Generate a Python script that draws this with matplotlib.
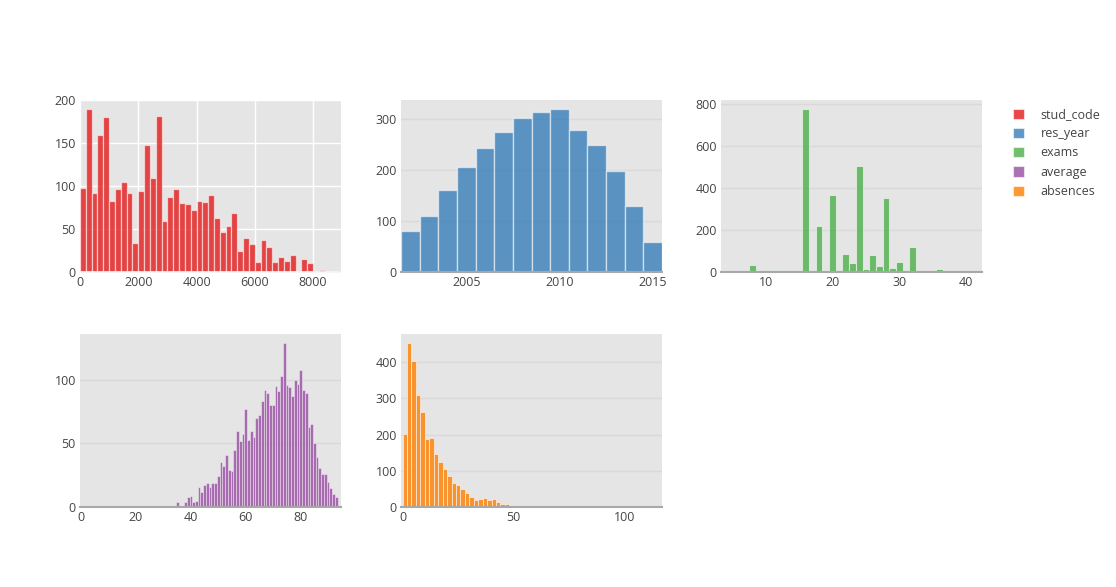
import numpy as np
import matplotlib
matplotlib.use("Agg")
import matplotlib.pyplot as plt
from matplotlib.patches import Patch
from matplotlib.colors import to_rgba

plt.rcParams['font.family'] = ['Open Sans', 'DejaVu Sans']

# ---------------- data ----------------
stud_code_counts = [98, 190, 92, 159, 180, 83, 96, 105, 92, 34, 94, 148, 109, 181, 59,
                    87, 96, 80, 79, 72, 83, 81, 89, 63, 47, 54, 69, 25, 39, 32, 12, 37,
                    29, 12, 17, 13, 20, 1, 15, 11, 1, 2, 0, 0, 1]
stud_code_bin = 200

res_years = [2002, 2003, 2004, 2005, 2006, 2007, 2008, 2009, 2010, 2011, 2012, 2013, 2014, 2015]
res_year_counts = [80, 111, 162, 207, 243, 275, 303, 314, 320, 280, 249, 199, 130, 58]

exam_values = list(range(4, 42))
exam_counts = [0, 1, 0, 0, 32, 0, 2, 0, 11, 6, 6, 6, 775, 3, 217, 0, 368, 8, 87, 41,
               505, 16, 79, 30, 350, 21, 49, 8, 120, 0, 7, 3, 16, 6, 1, 0, 0, 2]

average_values = list(range(0, 94))
average_counts = [1, 0, 0, 0, 0, 0, 0, 0, 0, 0, 0, 0, 0, 0, 0, 0, 0, 0, 0, 1,
                  0, 0, 0, 0, 0, 1, 0, 0, 0, 0, 0, 0, 1, 1, 1, 4, 1, 0, 4, 8,
                  9, 4, 5, 16, 12, 17, 19, 16, 19, 19, 24, 35, 32, 41, 29, 28, 45, 60, 52, 57,
                  77, 53, 60, 55, 70, 72, 83, 92, 90, 80, 80, 95, 91, 103, 129, 96, 94, 87, 100, 97,
                  108, 92, 90, 63, 65, 50, 39, 31, 26, 26, 20, 15, 10, 8]

absences_counts = [203, 453, 404, 310, 263, 187, 191, 146, 124, 104, 85, 65, 62, 51, 39,
                   28, 19, 21, 24, 19, 21, 14, 8, 8, 1, 2, 0, 2, 0, 3, 0, 0, 0, 1, 0,
                   1, 0, 0, 1, 0, 1, 0, 1, 0, 0, 1, 0, 0, 1, 0, 0, 0, 1, 0, 1, 0, 0, 0, 1]
absences_bin = 2

names = ['stud_code', 'res_year', 'exams', 'average', 'absences']
colors = ['#E41A1C', '#377EB8', '#4DAF4A', '#984EA3', '#FF7F00']

# ---------------- figure ----------------
W, H = 1116, 587
fig = plt.figure(figsize=(W / 100, H / 100), dpi=100)
fig.patch.set_facecolor('white')

def make_ax(x0, y0, x1, y1):
    return fig.add_axes([x0 / W, 1 - y1 / H, (x1 - x0) / W, (y1 - y0) / H])

ax1 = make_ax(80, 100, 341, 272)
ax2 = make_ax(401, 100, 662, 272)
ax3 = make_ax(721, 100, 982, 272)
ax4 = make_ax(80, 334, 341, 507)
ax5 = make_ax(401, 334, 662, 507)

BG = '#E5E5E5'

def style(ax, grid_color, zero_color, zero_lw, xgrid=False):
    ax.set_facecolor(BG)
    for s in ax.spines.values():
        s.set_visible(False)
    ax.spines['bottom'].set_visible(True)
    ax.spines['bottom'].set_color(zero_color)
    ax.spines['bottom'].set_linewidth(zero_lw)
    ax.spines['bottom'].set_zorder(5)
    ax.set_axisbelow(True)
    ax.grid(axis='y', color=grid_color, linewidth=1)
    if xgrid:
        ax.grid(axis='x', color=grid_color, linewidth=1)
    ax.tick_params(axis='both', length=0, labelsize=9, labelcolor='#444444', pad=3)

def draw(ax, centers, counts, width, color, lw):
    fc = to_rgba(color, 0.8)
    ec = (1, 1, 1, 0.55)
    ax.bar(centers, counts, width=width, color=fc, edgecolor=ec, linewidth=lw, zorder=3)

# stud_code
edges = np.arange(len(stud_code_counts)) * stud_code_bin
draw(ax1, edges + stud_code_bin / 2, stud_code_counts, stud_code_bin, colors[0], 0.9)
style(ax1, 'white', '#f5f5f5', 1.2, xgrid=True)
ax1.set_xlim(0, 8960)
ax1.set_ylim(0, 200)
ax1.set_xticks([0, 2000, 4000, 6000, 8000])
ax1.set_yticks([0, 50, 100, 150, 200])

# res_year
draw(ax2, res_years, res_year_counts, 1, colors[1], 1.0)
style(ax2, '#D9D9D9', '#A8A8A8', 1.5)
ax2.set_xlim(2001.5, 2015.5)
ax2.set_ylim(0, 338)
ax2.set_xticks([2005, 2010, 2015])
ax2.set_yticks([0, 100, 200, 300])

# exams
draw(ax3, exam_values, exam_counts, 1, colors[2], 0.8)
style(ax3, '#D9D9D9', '#A8A8A8', 1.5)
ax3.set_xlim(3.3, 42.4)
ax3.set_ylim(0, 818)
ax3.set_xticks([10, 20, 30, 40])
ax3.set_yticks([0, 200, 400, 600, 800])

# average
draw(ax4, average_values, average_counts, 1, colors[3], 0.5)
style(ax4, '#D9D9D9', '#A8A8A8', 1.5)
ax4.set_xlim(-0.4, 94.7)
ax4.set_ylim(0, 136)
ax4.set_xticks([0, 20, 40, 60, 80])
ax4.set_yticks([0, 50, 100])

# absences
aedges = np.arange(len(absences_counts)) * absences_bin
draw(ax5, aedges + absences_bin / 2, absences_counts, absences_bin, colors[4], 0.7)
style(ax5, '#D9D9D9', '#A8A8A8', 1.5)
ax5.set_xlim(-0.7, 116.6)
ax5.set_ylim(0, 478)
ax5.set_xticks([0, 50, 100])
ax5.set_yticks([0, 100, 200, 300, 400])

# legend
handles = [Patch(facecolor=to_rgba(c, 0.8), edgecolor=(1, 1, 1, 0.55), linewidth=0.8)
           for c in colors]
leg = fig.legend(handles, names, loc='upper left',
                 bbox_to_anchor=(1008 / W, 1 - 103 / H),
                 frameon=False, fontsize=9, handlelength=0.9, handleheight=0.9,
                 handletextpad=1.3, labelspacing=0.5, borderaxespad=0)
for t in leg.get_texts():
    t.set_color('#444444')

fig.savefig('out.png', dpi=100, facecolor='white')
